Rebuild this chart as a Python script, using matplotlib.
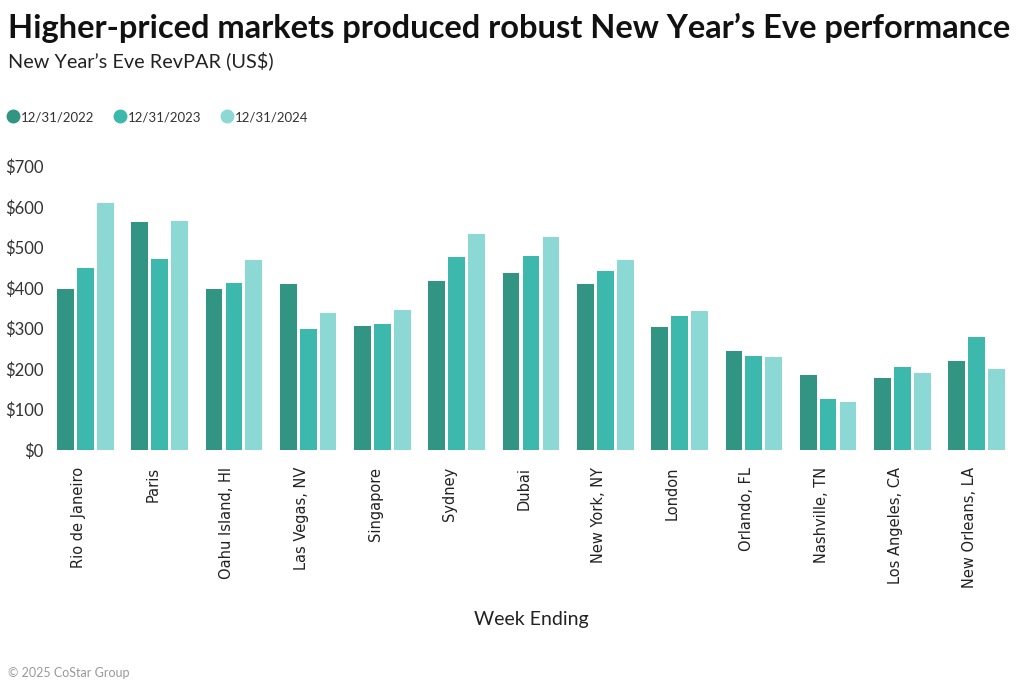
import matplotlib.pyplot as plt
import matplotlib.transforms as mtransforms
import numpy as np

# RevPAR values
markets = ["Rio de Janeiro", "Paris", "Oahu Island, HI", "Las Vegas, NV", "Singapore",
           "Sydney", "Dubai", "New York, NY", "London", "Orlando, FL",
           "Nashville, TN", "Los Angeles, CA", "New Orleans, LA"]
rev_2022 = [399, 564, 397, 410, 306, 417, 438, 409, 305, 244, 185, 178, 221]
rev_2023 = [449, 473, 412, 298, 311, 478, 479, 443, 331, 232, 125, 206, 278]
rev_2024 = [611, 566, 469, 338, 347, 533, 526, 469, 344, 231, 119, 191, 199]
series_names = ["12/31/2022", "12/31/2023", "12/31/2024"]
colors = ["#329482", "#3cb8ac", "#8bd8d4"]

plt.rcParams['font.family'] = ['Lato', 'DejaVu Sans']

fig = plt.figure(figsize=(10.24, 6.89), dpi=100)
ax = fig.add_axes([52 / 1024, 1 - 450 / 689, 958 / 1024, 283.3 / 689])

x = np.arange(len(markets))
width = 0.225
step = 0.268
for i, vals in enumerate([rev_2022, rev_2023, rev_2024]):
	ax.bar(x + (i - 1) * step, vals, width, color=colors[i], label=series_names[i])

ax.set_xlim(-0.45, len(markets) - 0.55)
ax.set_ylim(0, 700)
ax.set_yticks(range(0, 701, 100))
ax.set_yticklabels(["$%d" % v for v in range(0, 701, 100)], fontsize=12, color="#333333")
ax.set_xticks(x)
ax.set_xticklabels(markets, rotation=90, fontsize=10.5, color="#222222", family="DejaVu Sans")
ax.tick_params(axis='both', length=0)
ax.tick_params(axis='y', pad=6)
ax.tick_params(axis='x', pad=12)
# labels sit a little left of the group centre in the original
shift = mtransforms.ScaledTranslation(-7 / 100, 0, fig.dpi_scale_trans)
for lab in ax.get_xticklabels():
	lab.set_transform(lab.get_transform() + shift)
for s in ax.spines.values():
	s.set_visible(False)

ax.set_xlabel("Week Ending", fontsize=14, color="#222222", labelpad=17)

# Titles
fig.text(8 / 1024, 1 - 28 / 689, "Higher-priced markets produced robust New Year\u2019s Eve performance",
	fontsize=23.5, fontweight='bold', va='center', ha='left', color="#111111")
fig.text(8 / 1024, 1 - 61 / 689, "New Year\u2019s Eve RevPAR (US$)",
	fontsize=14.3, va='center', ha='left', color="#222222")

# Legend with round markers
handles = [plt.Line2D([], [], marker='o', linestyle='', markersize=9, color=c) for c in colors]
fig.legend(handles, series_names, loc='center left', bbox_to_anchor=(-4 / 1024, 1 - 117 / 689), ncol=3,
	frameon=False, fontsize=9.5, handlelength=0.8, handletextpad=0.2, columnspacing=1.55,
	labelcolor="#333333")

fig.text(8 / 1024, 1 - 673 / 689, "\u00a9 2025 CoStar Group", fontsize=9, color="#999999",
	va='center', ha='left')

fig.savefig("out.png", dpi=100)
